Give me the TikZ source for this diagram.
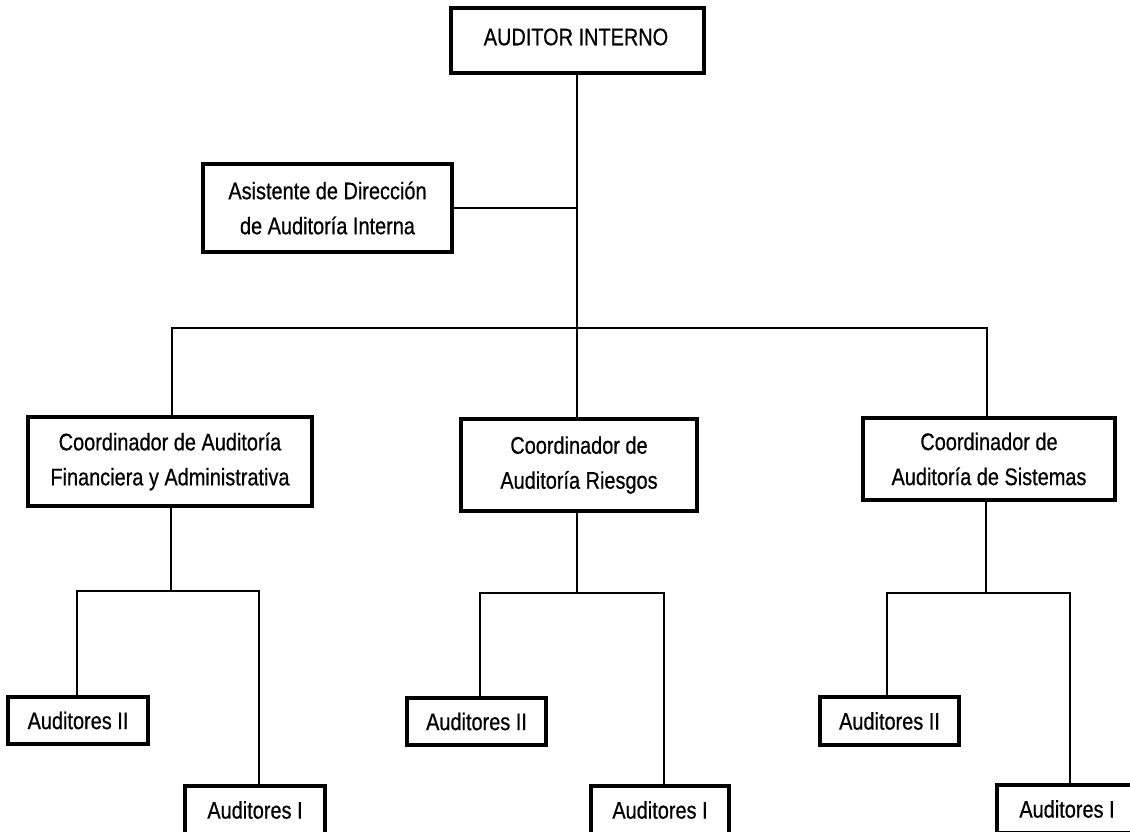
\documentclass[tikz,border=0pt]{standalone}
\usepackage{fontspec}
\newfontfamily\orgfont{Liberation Sans}[FakeStretch=0.83,FakeBold=0.6]
\begin{document}
\begin{tikzpicture}[x=1pt,y=-1pt,
  box/.style={draw=black, line width=3.5pt, fill=white, inner sep=0pt, align=center,
    font=\orgfont\fontsize{24}{35}\selectfont},
  link/.style={draw=black, line width=1.5pt}]
\useasboundingbox (0,0) rectangle (1130,831);
\clip (0,0) rectangle (1130,831);
% nodes
\node[box, minimum width=253pt, minimum height=65pt] (top) at (577.5,40.5) {};
\node[font=\orgfont\fontsize{24}{35}\selectfont, inner sep=0pt] (toptext) at (576,37) {AUDITOR INTERNO};
\node[box, minimum width=249pt, minimum height=88pt] (asis) at (327.5,208) {Asistente de Dirección\\de Auditoría Interna};
\node[box, minimum width=284pt, minimum height=89pt] (c1) at (170,461.5) {Coordinador de Auditoría\\Financiera y Administrativa};
\node[box, minimum width=236pt, minimum height=92pt] (c2) at (579,465) {Coordinador de\\Auditoría Riesgos};
\node[box, minimum width=252pt, minimum height=82pt] (c3) at (989,459) {Coordinador de\\Auditoría de Sistemas};
\node[box, minimum width=140pt, minimum height=47pt] (a1) at (78,720.5) {Auditores II};
\node[box, minimum width=140pt, minimum height=48pt] (b1) at (255,810) {Auditores I};
\node[box, minimum width=139pt, minimum height=47pt] (a2) at (476.5,721.5) {Auditores II};
\node[box, minimum width=138pt, minimum height=48pt] (b2) at (660,810) {Auditores I};
\node[box, minimum width=139pt, minimum height=48pt] (a3) at (889.5,721) {Auditores II};
\node[box, minimum width=150pt, minimum height=48pt] (b3) at (1072,809) {};
\node[font=\orgfont\fontsize{24}{35}\selectfont, inner sep=0pt] (b3text) at (1067,809) {Auditores I};
% junction coordinates
\coordinate (spine) at (577,208);
\coordinate (busL) at (172,328);
\coordinate (busR) at (987,328);
\coordinate (j1) at (171,591);
\coordinate (j1l) at (77,591);
\coordinate (j1r) at (259,591);
\coordinate (j2) at (577,593);
\coordinate (j2l) at (480,593);
\coordinate (j2r) at (664,593);
\coordinate (j3) at (986,593);
\coordinate (j3l) at (887,593);
\coordinate (j3r) at (1070,593);
% connectors
\draw[link] (top.south -| spine) -- (spine |- c2.north);
\draw[link] (asis.east) -- (spine);
\draw[link] (busL |- c1.north) -- (busL) -- (busR) -- (busR |- c3.north);
\draw[link] (j1 |- c1.south) -- (j1);
\draw[link] (j1l |- a1.north) -- (j1l) -- (j1r) -- (j1r |- b1.north);
\draw[link] (j2 |- c2.south) -- (j2);
\draw[link] (j2l |- a2.north) -- (j2l) -- (j2r) -- (j2r |- b2.north);
\draw[link] (j3 |- c3.south) -- (j3);
\draw[link] (j3l |- a3.north) -- (j3l) -- (j3r) -- (j3r |- b3.north);
\end{tikzpicture}
\end{document}
